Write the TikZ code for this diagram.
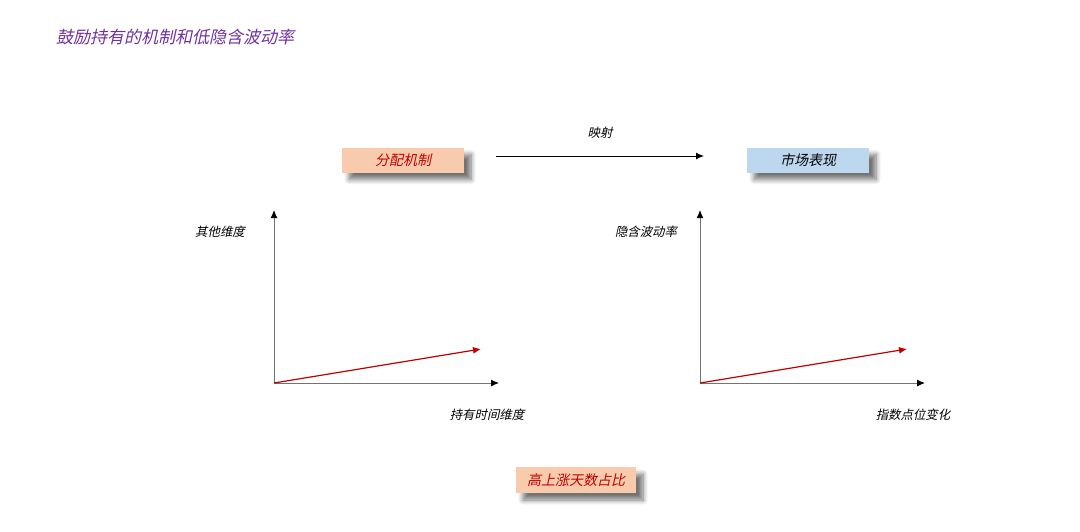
\documentclass[tikz,border=0pt]{standalone}
\usepackage{fontspec}
\newfontfamily\kai[FakeSlant=0.22]{Noto Sans CJK SC}
\usepackage{tikz}
\usetikzlibrary{arrows.meta,positioning,calc,shadows.blur}
\definecolor{peach}{HTML}{F8CBAD}
\definecolor{skyb}{HTML}{BDD7EE}
\definecolor{darkred}{HTML}{C00000}
\definecolor{titlepurple}{HTML}{7030A0}

\begin{document}
\begin{tikzpicture}[x=0.5pt,y=-0.5pt,>=Latex,
 box/.style={minimum width=61pt,minimum height=12.5pt,inner sep=0pt,font=\kai\fontsize{7}{8}\selectfont,
  blur shadow={shadow xshift=3.5pt,shadow yshift=-3.5pt,shadow blur radius=2.5pt,shadow blur steps=8,shadow opacity=55}},
 lbl/.style={font=\kai\fontsize{6.2}{7}\selectfont},
 axis/.style={-{Latex[length=4pt,width=3.5pt,color=black]},draw=black!55,line width=0.5pt},
 trend/.style={-{Latex[length=4pt,width=3.5pt]},draw=darkred,line width=0.6pt}]
\useasboundingbox (0,0) rectangle (1080,531);
% title
\node[anchor=west,text=titlepurple,font=\kai\fontsize{8.5}{10}\selectfont] (title) at (49,37) {鼓励持有的机制和低隐含波动率};
% top boxes
\node[box,fill=peach,text=darkred] (alloc) at (403,160) {分配机制};
\node[box,fill=skyb,text=black] (market) at (808,160) {市场表现};
\coordinate (mapS) at (496,156);
\coordinate (mapE) at (704,156);
\draw[-{Latex[length=4pt,width=3.5pt]},line width=0.5pt] (mapS)--node[lbl,above=5pt]{映射}(mapE);
% left chart
\coordinate (oL) at (274,383);
\coordinate (yL) at (274,210);
\coordinate (xL) at (499,383);
\coordinate (rL) at (481,349);
\draw[axis] (oL)--(yL);
\draw[axis] (oL)--(xL);
\draw[trend] (oL)--(rL);
\node[lbl] (otherdim) at (220,232) {其他维度};
\node[lbl] (holddim) at (487,415) {持有时间维度};
% right chart
\coordinate (oR) at (700,383);
\coordinate (yR) at (700,210);
\coordinate (xR) at (925,383);
\coordinate (rR) at (907,349);
\draw[axis] (oR)--(yR);
\draw[axis] (oR)--(xR);
\draw[trend] (oR)--(rR);
\node[lbl] (ivol) at (646,232) {隐含波动率};
\node[lbl] (idx) at (913,415) {指数点位变化};
% bottom box
\node[box,fill=peach,text=darkred,minimum width=60pt,minimum height=13pt] (upday) at (576,480) {高上涨天数占比};
\end{tikzpicture}
\end{document}
